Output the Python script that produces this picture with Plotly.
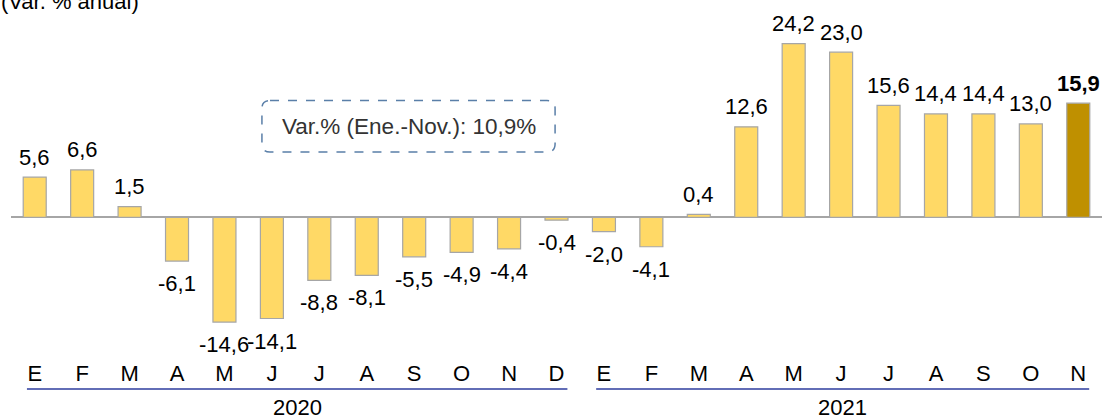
import plotly.graph_objects as go

# ---- data ----
months = ["E", "F", "M", "A", "M", "J", "J", "A", "S", "O", "N", "D",
          "E", "F", "M", "A", "M", "J", "J", "A", "S", "O", "N"]
values = [5.6, 6.6, 1.5, -6.1, -14.6, -14.1, -8.8, -8.1, -5.5, -4.9, -4.4, -0.4,
          -2.0, -4.1, 0.4, 12.6, 24.2, 23.0, 15.6, 14.4, 14.4, 13.0, 15.9]
years = ["2020", "2021"]
year_counts = [12, 11]
box_text = "Var.% (Ene.-Nov.): 10,9%"
title_text = "(Var. % anual)"

FONT = "Liberation Sans, Arial, sans-serif"
FS = 22
x = list(range(len(values)))
n = len(values)
colors = ["#FFD966"] * (n - 1) + ["#BF9000"]

fig = go.Figure()
fig.add_trace(go.Bar(
    x=x, y=values, width=0.485,
    marker=dict(color=colors, line=dict(color="#A6A6A6", width=1.2)),
    hoverinfo="skip",
))

annotations = []
for i, v in enumerate(values):
    label = f"{v:.1f}".replace(".", ",")
    last = i == n - 1
    annotations.append(dict(
        x=i, y=v, xref="x", yref="y",
        text=f"<b>{label}</b>" if last else label,
        showarrow=False, yanchor="middle",
        yshift=20 if v >= 0 else -22.5,
        font=dict(family=FONT, size=FS, color="#000000"),
    ))

# year labels and underline
start = 0
shapes = []
line_y = -0.0945
for yr, cnt in zip(years, year_counts):
    x0 = start - 0.164
    x1 = start + cnt - 1 + 0.23
    shapes.append(dict(type="line", xref="x", yref="paper",
                       x0=x0, x1=x1, y0=line_y, y1=line_y,
                       line=dict(color="#2E3C9E", width=1.5)))
    annotations.append(dict(x=(x0 + x1) / 2, y=-0.1524, xref="x", yref="paper",
                            text=yr, showarrow=False, yanchor="middle",
                            font=dict(family=FONT, size=FS, color="#000000")))
    start += cnt

# title
annotations.append(dict(x=-0.011, y=1.0884, xref="paper", yref="paper",
                        text=title_text, showarrow=False, xanchor="left", yanchor="middle",
                        font=dict(family=FONT, size=FS, color="#000000")))

# dashed rounded box
bx0, bx1, by0, by1 = 4.79, 10.97, 9.1, 16.27
rx, ry = 0.17, 1.1
path = (f"M {bx0+rx},{by1} L {bx1-rx},{by1} Q {bx1},{by1} {bx1},{by1-ry} "
        f"L {bx1},{by0+ry} Q {bx1},{by0} {bx1-rx},{by0} "
        f"L {bx0+rx},{by0} Q {bx0},{by0} {bx0},{by0+ry} "
        f"L {bx0},{by1-ry} Q {bx0},{by1} {bx0+rx},{by1} Z")
shapes.append(dict(type="path", xref="x", yref="y", path=path,
                   line=dict(color="#5A7FA8", width=1.5, dash="dash"),
                   fillcolor="rgba(0,0,0,0)"))
annotations.append(dict(x=(bx0 + bx1) / 2, y=(by0 + by1) / 2 - 0.1, xref="x", yref="y",
                        text=box_text, showarrow=False,
                        font=dict(family=FONT, size=22.5, color="#333333")))

fig.update_layout(
    width=1102, height=416,
    margin=dict(l=11, r=0, t=30, b=58),
    plot_bgcolor="white", paper_bgcolor="white",
    showlegend=False,
    annotations=annotations, shapes=shapes,
    xaxis=dict(tickmode="array", tickvals=x, ticktext=months,
               range=[-0.5, n - 0.5], showgrid=False, zeroline=False,
               showline=False, ticks="",
               tickfont=dict(family=FONT, size=FS, color="#000000")),
    yaxis=dict(range=[-19.6, 26.09], showgrid=False, showticklabels=False,
               zeroline=True, zerolinecolor="#A6A6A6", zerolinewidth=1.5,
               showline=False),
)

fig.write_html("out.html",
               config={"displayModeBar": False},
               post_script="document.body.style.margin='0';document.body.style.overflow='hidden';")
